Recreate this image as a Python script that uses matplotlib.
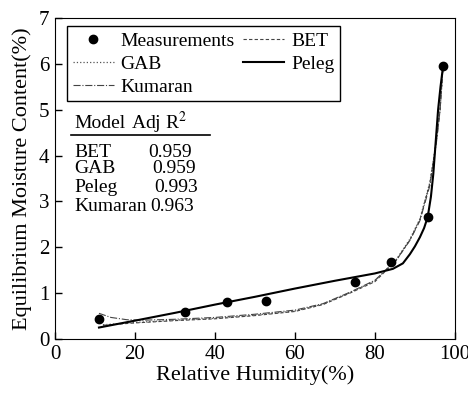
import matplotlib
matplotlib.use("Agg")
import matplotlib.pyplot as plt

plt.rcParams['font.family'] = ['Liberation Serif', 'DejaVu Serif']
plt.rcParams['mathtext.fontset'] = 'stix'

# measured points
rh_meas = [11.1, 32.6, 42.9, 52.7, 74.9, 83.9, 93.2, 97.1]
emc_meas = [0.43, 0.59, 0.81, 0.82, 1.24, 1.67, 2.66, 5.95]

# model curves
rh_peleg = [11, 20, 30, 40, 50, 60, 70, 80, 84.5, 87, 88.75, 90, 91.25, 92.3, 93.2, 94, 94.6, 95.2, 95.8, 96.4, 97]
emc_peleg = [0.25, 0.40, 0.57, 0.75, 0.92, 1.10, 1.27, 1.43, 1.53, 1.65, 1.85, 2.02, 2.22, 2.42, 2.66, 3.1, 3.6, 4.3, 5.0, 5.5, 5.92]

rh_bet = [12, 20, 30, 40, 50, 60, 67, 73.75, 80, 85.4, 88.75, 91.25, 93.75, 95.4, 96.3, 97]
emc_bet = [0.30, 0.35, 0.40, 0.44, 0.51, 0.60, 0.75, 1.0, 1.25, 1.72, 2.16, 2.6, 3.4, 4.33, 5.0, 5.9]

rh_gab = [12, 20, 30, 40, 50, 60, 67, 73.75, 80, 85.4, 88.75, 91.25, 93.75, 95.4, 96.3, 97]
emc_gab = [0.31, 0.36, 0.41, 0.45, 0.52, 0.61, 0.76, 1.01, 1.27, 1.74, 2.18, 2.62, 3.42, 4.35, 5.02, 5.9]

rh_kum = [11, 14, 18, 22, 30, 40, 50, 60, 67, 73.75, 80, 85.4, 88.75, 91.25, 93.75, 95.4, 96.3, 97]
emc_kum = [0.56, 0.47, 0.42, 0.41, 0.43, 0.47, 0.54, 0.63, 0.77, 1.02, 1.28, 1.73, 2.15, 2.58, 3.35, 4.3, 5.0, 5.9]

models = ['BET', 'GAB', 'Peleg', 'Kumaran']
adj_r2 = ['0.959', '0.959', '0.993', '0.963']

fig = plt.figure(figsize=(4.68, 3.95), dpi=100)
ax = fig.add_axes([0.1175, 0.1418, 0.8545, 0.8125])

ax.plot(rh_meas, emc_meas, 'o', color='black', markersize=6, label='Measurements', zorder=5)
ax.plot(rh_gab, emc_gab, ':', color='#555555', lw=0.9, label='GAB')
ax.plot(rh_kum, emc_kum, '-.', color='#444444', lw=0.8, label='Kumaran')
ax.plot(rh_bet, emc_bet, '--', color='#444444', lw=0.8, dashes=(3, 2), label='BET')
ax.plot(rh_peleg, emc_peleg, '-', color='black', lw=1.5, label='Peleg')

ax.set_xlim(0, 100)
ax.set_ylim(0, 7)
ax.set_xticks([0, 20, 40, 60, 80, 100])
ax.set_yticks(range(8))
ax.tick_params(direction='in', labelsize=15, length=5, width=1, pad=4)
ax.set_xlabel('Relative Humidity(%)', fontsize=16, labelpad=1)
ax.set_ylabel('Equilibrium Moisture Content(%)', fontsize=16, labelpad=5)

leg = ax.legend(ncol=2, loc='upper left', bbox_to_anchor=(0.03, 0.975), fontsize=14,
                frameon=True, fancybox=False, edgecolor='black', framealpha=1,
                handlelength=2.1, handletextpad=0.35, columnspacing=0.45,
                borderpad=0.3, labelspacing=0.28, borderaxespad=0)
leg.get_frame().set_linewidth(1.0)

# small fit table
ax.text(4.8, 4.71, 'Model', fontsize=14, va='center')
ax.text(19.0, 4.71, r'Adj R$^2$', fontsize=14, va='center')
ax.plot([4.0, 38.7], [4.44, 4.44], color='black', lw=1.2)
row_y = [4.06, 3.72, 3.31, 2.88]
val_x = [23.2, 24.2, 24.8, 23.8]
for name, val, yy, xx in zip(models, adj_r2, row_y, val_x):
    ax.text(4.8, yy, name, fontsize=14, va='center')
    ax.text(xx, yy, val, fontsize=14, va='center')

fig.savefig('out.png', dpi=100)
